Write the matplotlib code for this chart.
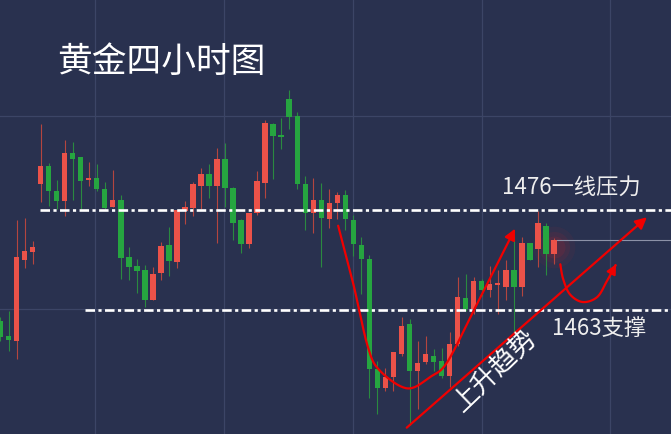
import numpy as np
import matplotlib
matplotlib.use("Agg")
import matplotlib.pyplot as plt

plt.rcParams['font.family'] = ['Noto Sans CJK SC', 'DejaVu Sans']

# 4h gold candles (open, high, low, close)
opens = [1461.6, 1459.6, 1459.0, 1469.5, 1470.5, 1479.3, 1481.7, 1478.4, 1477.1, 1483.3,
         1482.8, 1479.8, 1480.1, 1478.7, 1476.3, 1477.3, 1469.8, 1468.7, 1468.1, 1464.2,
         1467.8, 1471.4, 1469.2, 1475.8, 1476.2, 1479.1, 1480.6, 1479.0, 1482.5, 1478.8,
         1474.6, 1471.5, 1475.6, 1479.5, 1487.1, 1485.6, 1490.3, 1488.1, 1479.3, 1475.5,
         1477.3, 1474.8, 1476.8, 1477.9, 1474.7, 1471.4, 1469.6, 1455.3, 1452.8, 1454.3,
         1457.2, 1461.1, 1455.0, 1456.2, 1457.0, 1456.3, 1454.4, 1458.6, 1464.5, 1463.1,
         1466.7, 1465.5, 1466.2, 1466.0, 1468.1, 1466.0, 1471.6, 1470.9, 1473.9, 1470.2]
highs = [1462.1, 1462.8, 1474.6, 1474.9, 1471.9, 1487.1, 1482.0, 1479.8, 1485.0, 1484.7,
         1482.8, 1482.2, 1481.9, 1479.6, 1481.1, 1477.9, 1471.2, 1469.6, 1468.8, 1468.6,
         1471.8, 1473.7, 1475.9, 1477.1, 1479.6, 1481.4, 1481.9, 1484.0, 1484.6, 1478.9,
         1474.8, 1475.6, 1481.0, 1487.6, 1487.2, 1487.9, 1491.5, 1488.6, 1480.3, 1480.1,
         1479.4, 1478.7, 1478.3, 1478.5, 1475.3, 1472.4, 1470.1, 1456.3, 1455.5, 1457.5,
         1462.1, 1461.8, 1458.9, 1459.6, 1457.9, 1458.1, 1460.1, 1467.2, 1467.7, 1467.3,
         1467.0, 1468.7, 1468.1, 1469.4, 1472.6, 1472.4, 1471.6, 1475.8, 1474.3, 1472.3]
lows = [1458.9, 1457.7, 1456.6, 1468.4, 1468.9, 1477.0, 1476.5, 1476.1, 1475.1, 1477.3,
        1476.1, 1479.1, 1478.4, 1476.1, 1476.3, 1467.0, 1466.8, 1465.2, 1463.3, 1464.2,
        1466.9, 1467.4, 1468.4, 1474.1, 1475.2, 1476.1, 1477.5, 1471.7, 1476.3, 1472.0,
        1470.4, 1471.0, 1475.3, 1477.5, 1480.0, 1483.9, 1486.4, 1478.7, 1473.3, 1473.0,
        1468.6, 1473.6, 1474.8, 1473.3, 1470.0, 1465.1, 1451.6, 1449.5, 1452.5, 1452.5,
        1457.0, 1448.0, 1450.1, 1456.0, 1455.0, 1454.1, 1453.0, 1458.3, 1462.9, 1462.5,
        1464.8, 1464.6, 1462.5, 1464.3, 1460.1, 1464.8, 1469.5, 1468.6, 1467.5, 1468.9]
closes = [1459.4, 1459.1, 1469.8, 1470.6, 1471.1, 1481.7, 1478.4, 1477.1, 1483.3, 1482.5,
          1479.7, 1480.1, 1478.6, 1476.2, 1477.3, 1469.7, 1468.6, 1468.0, 1464.3, 1467.7,
          1471.3, 1469.3, 1475.9, 1476.3, 1479.3, 1480.6, 1479.1, 1482.6, 1478.8, 1474.3,
          1471.5, 1475.6, 1479.7, 1487.2, 1485.5, 1485.4, 1488.0, 1479.3, 1475.5, 1477.3,
          1474.9, 1476.9, 1477.9, 1474.8, 1471.5, 1469.6, 1455.3, 1452.8, 1454.3, 1457.5,
          1460.9, 1455.1, 1456.1, 1457.2, 1456.2, 1454.4, 1458.6, 1464.6, 1463.1, 1466.7,
          1465.5, 1466.3, 1466.4, 1468.1, 1466.0, 1471.6, 1469.5, 1474.2, 1470.2, 1472.0]

resistance = 1476
support = 1463
title = "黄金四小时图"
resistance_label = "1476一线压力"
support_label = "1463支撑"
trend_label = "上升趋势"

# hand drawn red annotations (candle index, price)
u_curve = [(42.1, 1473.9), (44.0, 1466.3), (45.8, 1458.2), (47.3, 1455.1), (50.7, 1452.8),
           (53.6, 1454.3), (55.7, 1456.2), (58.9, 1462.7), (61.0, 1467.0), (64.15, 1473.5)]
trend_line = [(50.65, 1447.7), (80.6, 1475.0)]
small_curve = [(69.8, 1468.9), (70.15, 1467.0), (71.0, 1465.0), (72.6, 1464.0), (74.4, 1464.65),
               (75.6, 1466.7), (76.75, 1468.9)]

bg = '#29314f'
up_col, down_col = '#eb5249', '#26a540'
up_wick, down_wick = '#b4453f', '#2a8a40'


def smooth(pts, n=20):
    # catmull-rom through the hand drawn points
    p = np.array(pts, dtype=float)
    p = np.vstack([p[0], p, p[-1]])
    out = []
    for i in range(1, len(p) - 2):
        p0, p1, p2, p3 = p[i - 1], p[i], p[i + 1], p[i + 2]
        for t in np.linspace(0, 1, n, endpoint=False):
            out.append(0.5 * ((2 * p1) + (-p0 + p2) * t + (2 * p0 - 5 * p1 + 4 * p2 - p3) * t ** 2
                              + (-p0 + 3 * p1 - 3 * p2 + p3) * t ** 3))
    out.append(p[-2])
    return np.array(out)


fig = plt.figure(figsize=(6.71, 4.35), dpi=100, facecolor=bg)
ax = fig.add_axes([0, 0, 1, 1])
ax.set_facecolor(bg)
ax.set_xlim(-0.06, 83.6)
ax.set_ylim(1446.88, 1503.31)
ax.axis('off')

grid_col = '#3c4566'
for gx in [11.78, 27.87, 43.95, 60.04, 76.0]:
    ax.axvline(gx, color=grid_col, lw=0.9, zorder=0)
for gy in [1488.13, 1463.09]:
    ax.axhline(gy, color=grid_col, lw=0.9, zorder=0)

x = np.arange(len(opens))
o = np.array(opens)
c = np.array(closes)
up = c >= o
bottoms = np.minimum(o, c)
heights = np.maximum(np.abs(c - o), 0.22)
ax.vlines(x[up], np.array(lows)[up], np.array(highs)[up], color=up_wick, lw=0.8, zorder=2)
ax.vlines(x[~up], np.array(lows)[~up], np.array(highs)[~up], color=down_wick, lw=0.8, zorder=2)
ax.bar(x, heights, bottom=bottoms, width=0.68, color=np.where(up, up_col, down_col), zorder=3,
       linewidth=0)

# glow on the last candle + last price line
for s, a in [(900, 0.05), (500, 0.07), (250, 0.09)]:
    ax.scatter([x[-1]], [(opens[-1] + closes[-1]) / 2], s=s, color='#ff2020', alpha=a,
               linewidths=0, zorder=1)
ax.plot([x[-1] + 0.4, 83.6], [closes[-1], closes[-1]], color='#8c92a8', lw=0.8, zorder=1)

# resistance / support dash-dot lines
dash = (3.6, 1.3, 1.2, 1.3)
ax.plot([4.93, 83.6], [resistance, resistance], color='white', lw=1.9, dashes=dash,
        dash_capstyle='butt', zorder=4)
ax.plot([10.54, 83.6], [support, support], color='white', lw=1.9, dashes=dash,
        dash_capstyle='butt', zorder=4)

red = '#f00000'
for pts, ms in [(u_curve, 16), (small_curve, 14), (trend_line, 17)]:
    path = smooth(pts) if len(pts) > 2 else np.array(pts)
    ax.plot(path[:-2, 0], path[:-2, 1], color=red, lw=1.6, zorder=5, solid_capstyle='round')
    ax.annotate('', xy=path[-1], xytext=path[-3] if len(path) > 2 else path[0],
                arrowprops=dict(arrowstyle='-|>', color=red, lw=1.6, mutation_scale=ms,
                                shrinkA=0, shrinkB=0), zorder=5)

fig.text(57 / 671, 1 - 62 / 435, title, color='white', fontsize=25, fontweight='medium',
         ha='left', va='center')
ax.text(62.53, 1478.98, resistance_label, color='#eeeeee', fontsize=16, ha='left', va='center',
        zorder=6)
ax.text(68.77, 1460.76, support_label, color='#eeeeee', fontsize=16, ha='left', va='center',
        zorder=6)
ax.text(61.66, 1455.3, trend_label, color='white', fontsize=19, rotation=44,
        rotation_mode='anchor', ha='center', va='center', zorder=6)

fig.savefig('out.png', dpi=100, facecolor=bg)
